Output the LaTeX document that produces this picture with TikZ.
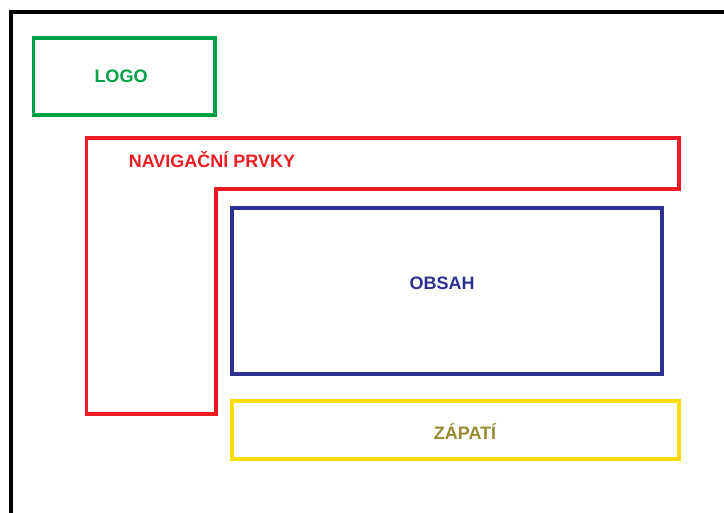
\documentclass[tikz,border=0pt]{standalone}
\usepackage{fontspec}
\setmainfont{Liberation Sans}
\definecolor{logogreen}{RGB}{0,160,70}
\definecolor{navred}{RGB}{237,28,36}
\definecolor{contentblue}{RGB}{46,49,146}
\definecolor{footyellow}{RGB}{255,221,0}
\definecolor{footolive}{RGB}{150,140,50}
\begin{document}
\begin{tikzpicture}[x=1pt,y=-1pt,
  region/.style={line width=3.6pt},
  label/.style={font=\bfseries\fontsize{18}{21}\selectfont, inner sep=0pt}]
\useasboundingbox (0,0) rectangle (724,513);
\fill[white] (0,0) rectangle (724,513);
\clip (0,0) rectangle (724,513);
% page frame
\draw[line width=4pt] (11,530) -- (11,12) -- (740,12);
% logo
\draw[region, logogreen] (33.5,38) rectangle (215,115);
\node[label, text=logogreen] (logo) at (121,76) {LOGO};
% navigation (L-shaped area)
\draw[region, navred] (86.5,138) -- (679,138) -- (679,189) -- (216,189)
  -- (216,414) -- (86.5,414) -- cycle;
\node[label, text=navred] (nav) at (212,160) {NAVIGAČNÍ PRVKY};
% content
\draw[region, contentblue] (232,208) rectangle (662,374);
\node[label, text=contentblue] (content) at (442,283) {OBSAH};
% footer
\draw[region, footyellow] (232,401) rectangle (679,459);
\node[label, text=footolive] (footer) at (465,432) {ZÁPATÍ};
\end{tikzpicture}
\end{document}
